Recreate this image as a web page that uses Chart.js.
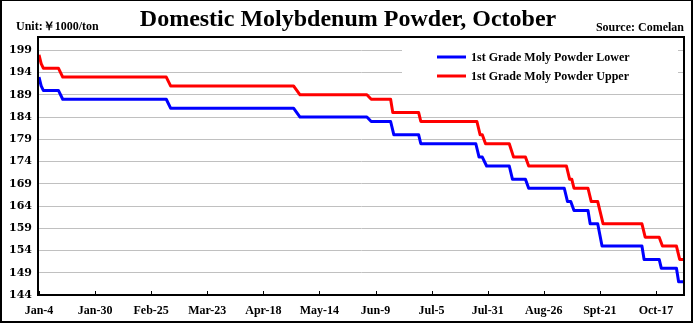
<!DOCTYPE html>
<html>
<head>
<meta charset="utf-8">
<title>Domestic Molybdenum Powder, October</title>
<script src="https://cdn.jsdelivr.net/npm/chart.js@4/dist/chart.umd.min.js"></script>
<style>
    html, body { margin: 0; padding: 0; background: #fff; }
    #wrap { width: 700px; height: 327px; }
</style>
</head>
<body>
<div id="wrap"><canvas id="chart" width="700" height="327"></canvas></div>
<script>
// Days counted from Jan-4
const tickDays = [0, 26, 52, 78, 104, 130, 156, 182, 208, 234, 260, 286];
const tickLabels = ['Jan-4', 'Jan-30', 'Feb-25', 'Mar-23', 'Apr-18', 'May-14', 'Jun-9', 'Jul-5', 'Jul-31', 'Aug-26', 'Spt-21', 'Oct-17'];
const yTicks = [144, 149, 154, 159, 164, 169, 174, 179, 184, 189, 194, 199];

const lowerDays = [0, 1, 2, 9, 11, 59, 61, 118, 121, 152, 154, 163, 164.5, 176, 177, 202.5, 204, 205.5, 207.5, 218, 219.5, 225.5, 227, 243.5, 245, 246.5, 248, 254.5, 255.5, 259, 261, 279.5, 280.5, 287.5, 288.5, 295.5, 296.5, 299];
const lowerValues = [193, 191, 190, 190, 188, 188, 186, 186, 184, 184, 183, 183, 180, 180, 178, 178, 175, 175, 173, 173, 170, 170, 168, 168, 165, 165, 163, 163, 160, 160, 155, 155, 152, 152, 150, 150, 147, 147];

const upperDays = [0, 1, 2, 9, 11, 59, 61, 118, 121, 152, 154, 163, 164, 176, 177, 203, 204.5, 205.5, 207, 218, 220, 225.5, 227, 244.5, 246, 247, 248, 254.5, 256, 259, 261.5, 279.5, 281, 287.5, 289, 295.5, 297, 299];
const upperValues = [198, 196, 195, 195, 193, 193, 191, 191, 189, 189, 188, 188, 185, 185, 183, 183, 180, 180, 178, 178, 175, 175, 173, 173, 170, 170, 168, 168, 165, 165, 160, 160, 157, 157, 155, 155, 152, 152];

const serif = '"Liberation Serif", "Times New Roman", serif';

const toPoints = (days, values) => days.map((d, i) => ({ x: d, y: values[i] }));

// white page, outer frame, titles, legend, plot box
const decorations = {
    id: 'decorations',
    beforeDraw(chart) {
        const ctx = chart.ctx;
        ctx.save();
        ctx.fillStyle = '#fff';
        ctx.fillRect(0, 0, chart.width, chart.height);
        ctx.restore();
    },
    beforeDatasetsDraw(chart) {
        const ctx = chart.ctx;
        const area = chart.chartArea;
        ctx.save();
        // legend sits on a white patch over the gridlines
        ctx.fillStyle = '#fff';
        ctx.fillRect(402, area.top + 1, 276, 52);
        ctx.font = 'bold 12px ' + serif;
        ctx.textBaseline = 'middle';
        chart.data.datasets.forEach((ds, i) => {
            const y = 57 + i * 19;
            ctx.strokeStyle = ds.borderColor;
            ctx.lineWidth = 3;
            ctx.beginPath();
            ctx.moveTo(437, y);
            ctx.lineTo(466, y);
            ctx.stroke();
            ctx.fillStyle = '#000';
            ctx.fillText(ds.label, 471, y + 1);
        });
        ctx.restore();
    },
    afterDraw(chart) {
        const ctx = chart.ctx;
        const area = chart.chartArea;
        const x = chart.scales.x;
        ctx.save();
        ctx.fillStyle = '#000';
        ctx.textBaseline = 'alphabetic';
        ctx.font = 'bold 24px ' + serif;
        ctx.textAlign = 'center';
        ctx.fillText('Domestic Molybdenum Powder, October', 348, 26);
        ctx.font = 'bold 12px ' + serif;
        ctx.textAlign = 'left';
        ctx.fillText('Unit:￥1000/ton', 16, 30);
        ctx.textAlign = 'right';
        ctx.fillText('Source: Comelan', 684, 31);

        // small inward ticks on the date axis
        ctx.strokeStyle = '#000';
        ctx.lineWidth = 1;
        x.ticks.forEach(t => {
            const px = Math.round(x.getPixelForValue(t.value)) + 0.5;
            ctx.beginPath();
            ctx.moveTo(px, area.bottom);
            ctx.lineTo(px, area.bottom - 4);
            ctx.stroke();
        });

        // plot box
        ctx.lineWidth = 2;
        ctx.strokeRect(area.left - 1, area.top, area.right - area.left + 1, area.bottom - area.top);

        // outer frame
        ctx.fillRect(0, 0, 693, 1);
        ctx.fillRect(0, 0, 2, 323);
        ctx.fillRect(691, 0, 2, 323);
        ctx.fillRect(0, 321, 693, 2);
        ctx.restore();
    }
};

document.addEventListener('DOMContentLoaded', () => {
    const canvas = document.getElementById('chart');

    new Chart(canvas.getContext('2d'), {
        type: 'line',
        data: {
            datasets: [
                {
                    label: '1st Grade Moly Powder Lower',
                    data: toPoints(lowerDays, lowerValues),
                    borderColor: '#0000ff',
                    backgroundColor: '#0000ff',
                    borderWidth: 3,
                    pointRadius: 0,
                    tension: 0,
                    borderJoinStyle: 'round'
                },
                {
                    label: '1st Grade Moly Powder Upper',
                    data: toPoints(upperDays, upperValues),
                    borderColor: '#ff0000',
                    backgroundColor: '#ff0000',
                    borderWidth: 3,
                    pointRadius: 0,
                    tension: 0,
                    borderJoinStyle: 'round'
                }
            ]
        },
        options: {
            responsive: false,
            animation: false,
            devicePixelRatio: 1,
            layout: { padding: { top: 37, right: 16, left: 0, bottom: 0 } },
            plugins: {
                legend: { display: false },
                tooltip: { enabled: false },
                title: { display: false }
            },
            scales: {
                x: {
                    type: 'linear',
                    min: 0,
                    max: 299,
                    afterBuildTicks: scale => { scale.ticks = tickDays.map(v => ({ value: v })); },
                    afterFit: scale => { scale.height = 32; },
                    grid: { display: false, drawTicks: false },
                    border: { display: false },
                    ticks: {
                        autoSkip: false,
                        maxRotation: 0,
                        padding: 9,
                        color: '#000',
                        font: { family: serif, size: 12, weight: 'bold' },
                        callback: v => tickLabels[tickDays.indexOf(v)]
                    }
                },
                y: {
                    min: 144,
                    max: 202,
                    afterBuildTicks: scale => { scale.ticks = yTicks.map(v => ({ value: v })); },
                    afterFit: scale => { scale.width = 39; },
                    grid: { color: '#c0c0c0', lineWidth: 1, drawTicks: false },
                    border: { display: false },
                    ticks: {
                        padding: 7,
                        color: '#000',
                        font: { family: '"DejaVu Serif", serif', size: 11, weight: 'bold' }
                    }
                }
            }
        },
        plugins: [decorations]
    });
});
</script>
</body>
</html>
